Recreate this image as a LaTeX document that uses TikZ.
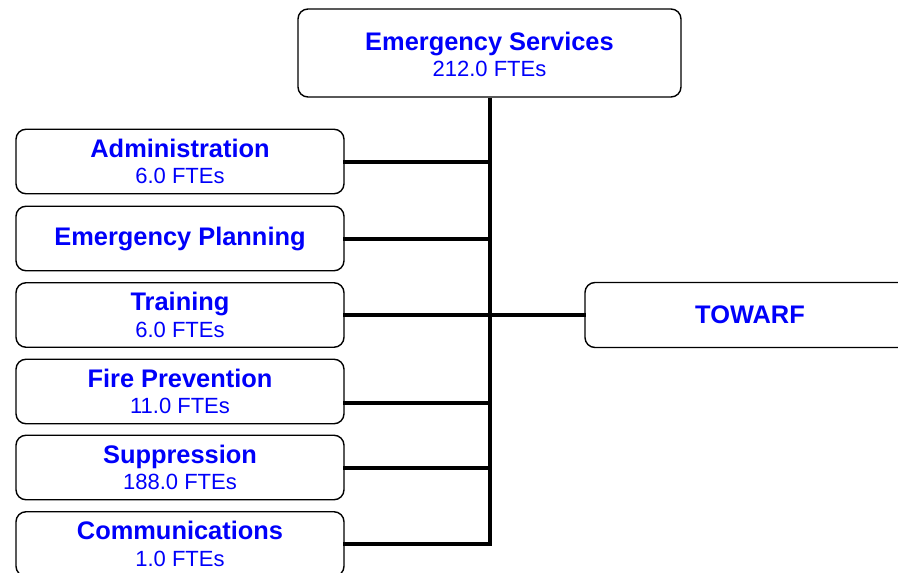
\documentclass[tikz,border=0pt]{standalone}
\usepackage{fontspec}
\setmainfont{Liberation Sans}
\definecolor{unitblue}{RGB}{0,0,250}
\begin{document}
\begin{tikzpicture}[x=1pt,y=-1pt,
  unitbox/.style={draw=black, line width=1.4pt, rounded corners=10pt, fill=white,
    inner sep=0pt, align=center, text=unitblue,
    font=\fontsize{25.4}{27}\selectfont\bfseries},
  leftbox/.style={unitbox, minimum width=328pt, minimum height=64.5pt},
  link/.style={line width=4pt, line cap=rect}
]
\newcommand{\ftes}[1]{\\[-0.5pt]{\fontsize{22}{24}\selectfont\mdseries #1}}
\useasboundingbox (0,0) rectangle (898,573);
\clip (0,0) rectangle (898,573);

% top unit
\node[unitbox, minimum width=383pt, minimum height=88pt] (top) at (489.5,53)
  {\rule{0pt}{21pt}Emergency Services\ftes{212.0 FTEs}};

% divisions on the left
\node[leftbox] (admin) at (180,161.5) {Administration\ftes{6.0 FTEs}};
\node[leftbox] (plan)  at (180,238.5) {Emergency Planning};
\node[leftbox] (train) at (180,315)   {Training\ftes{6.0 FTEs}};
\node[leftbox] (fire)  at (180,391.5) {Fire Prevention\ftes{11.0 FTEs}};
\node[leftbox] (supp)  at (180,467.5) {Suppression\ftes{188.0 FTEs}};
\node[leftbox] (comm)  at (180,544)   {Communications\ftes{1.0 FTEs}};

% division on the right
\node[unitbox, minimum width=330pt, minimum height=65pt] (towarf) at (750,315) {TOWARF};

% trunk
\coordinate (trunkend) at (489.5,545);
\draw[line width=4pt] (top.south) -- (trunkend);

% branches
\draw[link] (admin.east) -- (admin.east -| top.south);
\draw[link] (plan.east)  -- (plan.east -| top.south);
\draw[link] (train.east) -- (train.east -| top.south);
\draw[link] ([yshift=-11.5pt]fire.east) -- ([yshift=-11.5pt]fire.east -| top.south);
\draw[link] (supp.east)  -- (supp.east -| top.south);
\draw[link] (comm.east)  -- (comm.east -| top.south);
\draw[link] (towarf.west) -- (towarf.west -| top.south);
\end{tikzpicture}
\end{document}
